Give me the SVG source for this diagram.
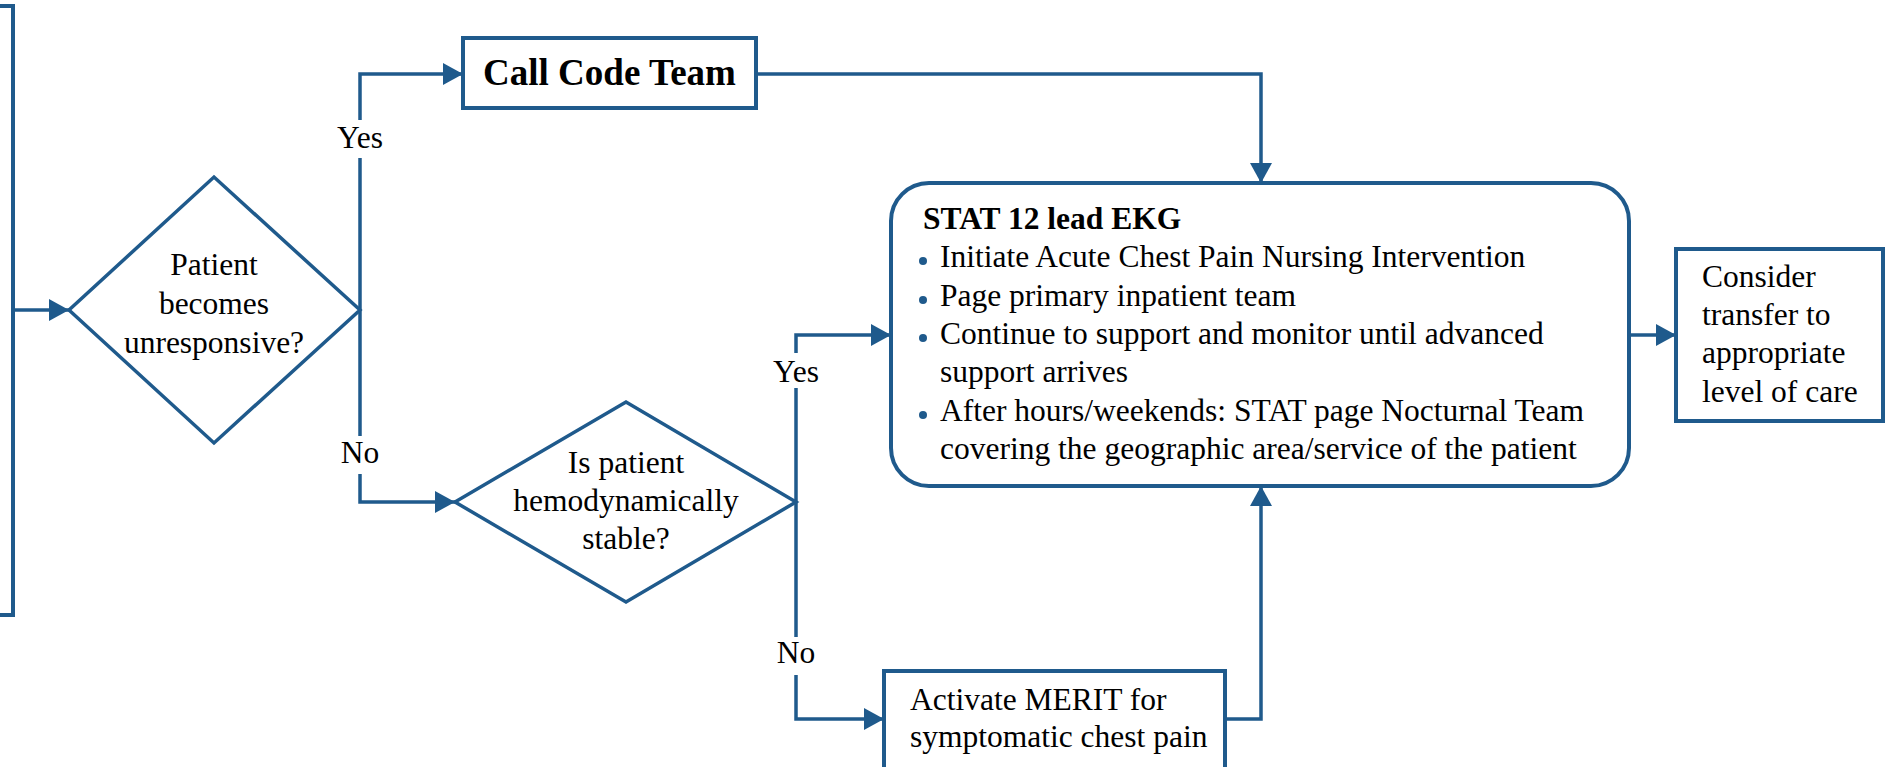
<svg xmlns="http://www.w3.org/2000/svg" width="1890" height="767" viewBox="0 0 1890 767">
  <defs>
    <marker id="arrow" markerUnits="userSpaceOnUse" markerWidth="22" markerHeight="24" refX="20" refY="11" orient="auto">
      <path d="M0,0 L20,11 L0,22 z" fill="#1f5a8c"/>
    </marker>
    <style>
      .box { fill: #ffffff; stroke: #1f5a8c; stroke-width: 4; }
      .dia { fill: #ffffff; stroke: #1f5a8c; stroke-width: 3.5; }
      .conn { fill: none; stroke: #1f5a8c; stroke-width: 3.5; marker-end: url(#arrow); }
      .txt { font-family: "Liberation Serif", "Times New Roman", serif; font-size: 31.5px; fill: #000000; }
      .bold { font-weight: bold; }
      .mid { text-anchor: middle; }
      .lblbg { fill: #ffffff; }
      .dot { fill: #1f5a8c; }
    </style>
  </defs>

  <rect x="0" y="0" width="1890" height="767" fill="#ffffff"/>

  <!-- connectors -->
  <g id="connectors">
    <path class="conn" d="M13,310 H69"/>
    <path class="conn" d="M360,310 V74 H463"/>
    <path class="conn" d="M360,310 V502 H455"/>
    <path class="conn" d="M756,74 H1261 V183"/>
    <path class="conn" d="M796,502 V335 H891"/>
    <path class="conn" d="M796,502 V719 H884"/>
    <path class="conn" d="M1225,719 H1261 V486"/>
    <path class="conn" d="M1629,335 H1676"/>
    <!-- branch labels -->
    <rect class="lblbg" x="340" y="120" width="40" height="38"/>
    <text class="txt mid" x="360" y="148">Yes</text>
    <rect class="lblbg" x="342" y="436" width="36" height="38"/>
    <text class="txt mid" x="360" y="463">No</text>
    <rect class="lblbg" x="776" y="353" width="40" height="35"/>
    <text class="txt mid" x="796" y="382">Yes</text>
    <rect class="lblbg" x="778" y="637" width="36" height="38"/>
    <text class="txt mid" x="796" y="663">No</text>
  </g>

  <!-- source box entering from the left edge -->
  <g id="left-box">
    <rect class="box" x="-60" y="6" width="73" height="609"/>
  </g>

  <g id="unresponsive">
    <polygon class="dia" points="69,310 214,177 360,310 214,443"/>
    <text class="txt mid" x="214" y="275">Patient</text>
    <text class="txt mid" x="214" y="314">becomes</text>
    <text class="txt mid" x="214" y="353">unresponsive?</text>
  </g>

  <g id="call-code-team">
    <rect class="box" x="463" y="38" width="293" height="70"/>
    <text class="txt bold mid" x="609.5" y="85" style="font-size:37px">Call Code Team</text>
  </g>

  <g id="hemodynamic">
    <polygon class="dia" points="455,502 626,402 796,502 626,602"/>
    <text class="txt mid" x="626" y="473">Is patient</text>
    <text class="txt mid" x="626" y="511">hemodynamically</text>
    <text class="txt mid" x="626" y="549">stable?</text>
  </g>

  <g id="stat-ekg">
    <rect class="box" x="891" y="183" width="738" height="303" rx="38" ry="38"/>
    <text class="txt bold" x="923" y="229">STAT 12 lead EKG</text>
    <circle class="dot" cx="923" cy="261" r="4"/>
    <text class="txt" x="940" y="267">Initiate Acute Chest Pain Nursing Intervention</text>
    <circle class="dot" cx="923" cy="300" r="4"/>
    <text class="txt" x="940" y="306">Page primary inpatient team</text>
    <circle class="dot" cx="923" cy="338" r="4"/>
    <text class="txt" x="940" y="344">Continue to support and monitor until advanced</text>
    <text class="txt" x="940" y="382">support arrives</text>
    <circle class="dot" cx="923" cy="415" r="4"/>
    <text class="txt" x="940" y="421">After hours/weekends: STAT page Nocturnal Team</text>
    <text class="txt" x="940" y="459">covering the geographic area/service of the patient</text>
  </g>

  <g id="merit">
    <rect class="box" x="884" y="671" width="341" height="130"/>
    <text class="txt" x="910" y="710">Activate MERIT for</text>
    <text class="txt" x="910" y="747">symptomatic chest pain</text>
  </g>

  <g id="transfer">
    <rect class="box" x="1676" y="249" width="207" height="172"/>
    <text class="txt" x="1702" y="287">Consider</text>
    <text class="txt" x="1702" y="325">transfer to</text>
    <text class="txt" x="1702" y="363">appropriate</text>
    <text class="txt" x="1702" y="402">level of care</text>
  </g>
</svg>
